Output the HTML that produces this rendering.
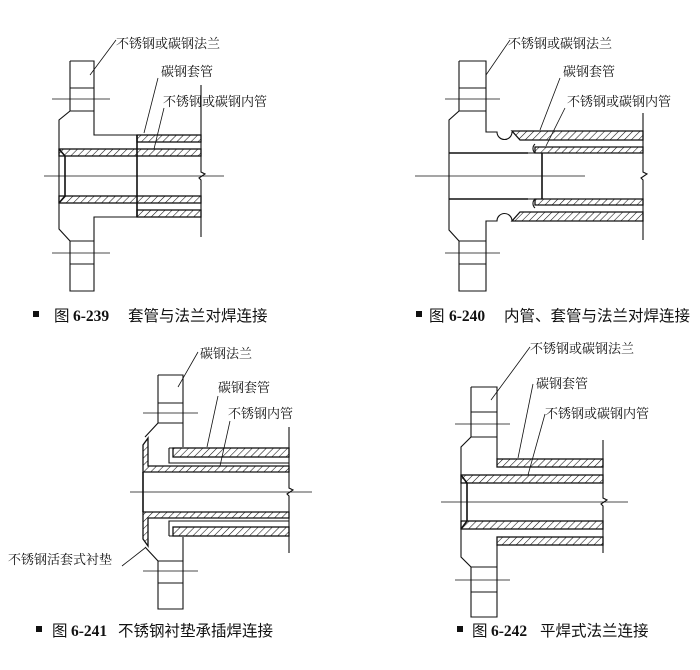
<!DOCTYPE html>
<html><head><meta charset="utf-8"><style>
html,body{margin:0;padding:0;background:#fff;}
svg{display:block}
.l{stroke:#111;stroke-width:1.1;fill:none}
.t{stroke:#111;stroke-width:1.6;fill:none}
.c{stroke:#111;stroke-width:0.8;fill:none}
.h{fill:url(#hat);stroke:#111;stroke-width:1.3}
.lb{font-family:"Liberation Serif","Noto Serif CJK SC",serif;font-size:13px;fill:#111}
.cp{font-family:"Liberation Sans","Noto Sans CJK SC",sans-serif;font-size:15.5px;fill:#111}
.cn{font-family:"Liberation Serif","Noto Serif CJK SC",serif;font-size:15.5px;font-weight:bold;fill:#111}
</style></head><body>
<svg width="700" height="670" viewBox="0 0 700 670" xmlns="http://www.w3.org/2000/svg">
<defs>
<pattern id="hat" patternUnits="userSpaceOnUse" width="5" height="5" patternTransform="rotate(45)">
<line x1="0" y1="0" x2="0" y2="5" stroke="#111" stroke-width="1.1"/>
</pattern>
</defs>

<!-- ===== Figure 1 ===== -->
<g>
<path class="l" d="M70,61 H94 V135 H137 M70,61 V111 L59,120 V229 L70,241 V291 H94 V217 H137"/>
<path class="l" d="M70,88 H94 M70,111 H94 M70,241 H94 M70,264 H94"/>
<path class="c" d="M52,99 H110 M52,253 H110 M44,176 H224"/>
<rect class="h" x="137" y="135" width="64" height="7"/>
<rect class="h" x="137" y="210" width="64" height="7"/>
<rect class="h" x="59" y="149" width="142" height="7"/>
<rect class="h" x="59" y="196" width="142" height="7"/>
<path class="t" d="M65,156 V196 M59,149 L65,156 M59,203 L65,196 M137,135 V217"/>
<path class="l" d="M201,85 V172 l4,2 l-6,4 l2,2 V237"/>
<path class="c" d="M90,75 L116,40 M144,133 L158,78 M154,149 L164,108"/>
<text class="lb" x="116" y="48">不锈钢或碳钢法兰</text>
<text class="lb" x="161" y="76">碳钢套管</text>
<text class="lb" x="163" y="106">不锈钢或碳钢内管</text>
<rect x="33" y="311" width="6" height="6" fill="#111"/>
<text class="cp" x="54" y="321">图</text>
<text class="cn" x="73" y="321">6-239</text>
<text class="cp" x="128" y="321">套管与法兰对焊连接</text>
</g>

<!-- ===== Figure 2 ===== -->
<g>
<path class="l" d="M459,61 H486 V132 H497 A7,7 0 1 0 512,132 M459,61 V111 L449,120 V230 L459,241 V291 H486 V221 H497 A7,7 0 1 1 512,221"/>
<path class="l" d="M459,88 H486 M459,111 H486 M459,241 H486 M459,264 H486"/>
<path class="c" d="M445,99 H500 M445,253 H500 M415,176 H585"/>
<path class="t" d="M449,153 H528 M449,199 H528 M542,153 V199"/>
<path class="h" d="M512,131 H643 V140 H520 Z"/>
<path class="h" d="M512,221 H643 V212 H520 Z"/>
<path class="h" d="M535,147 H643 V153 H535 Z"/>
<path class="h" d="M535,199 H643 V205 H535 Z"/>
<path class="l" d="M535,144 A6,6 0 0 0 535,153 M535,199 A6,6 0 0 0 535,208 M528,153 H535 M528,199 H535"/>
<path class="l" d="M643,113 V172 l4,2 l-6,4 l2,2 V240"/>
<path class="c" d="M486,75 L510,40 M540,130 L560,78 M546,146 L565,108"/>
<text class="lb" x="508" y="48">不锈钢或碳钢法兰</text>
<text class="lb" x="563" y="76">碳钢套管</text>
<text class="lb" x="567" y="106">不锈钢或碳钢内管</text>
<rect x="416" y="311" width="6" height="6" fill="#111"/>
<text class="cp" x="429" y="321">图</text>
<text class="cn" x="449" y="321">6-240</text>
<text class="cp" x="504" y="321">内管、套管与法兰对焊连接</text>
</g>

<!-- ===== Figure 3 ===== -->
<g>
<path class="l" d="M158,375 H183 V447 M158,375 V423 L145,437 M183,537 V609 H158 V561 L145,547"/>
<path class="l" d="M158,403 H183 M158,423 H183 M158,561 H183 M158,583 H183"/>
<path class="c" d="M143,413 H198 M143,571 H198 M130,492 H312"/>
<path class="h" d="M143,445 L148,438 V466 H289 V472 H143 Z"/>
<path class="h" d="M143,539 L148,546 V518 H289 V512 H143 Z"/>
<rect class="h" x="173" y="448" width="116" height="9"/>
<rect class="h" x="173" y="527" width="116" height="9"/>
<path class="l" d="M169,448 V463 H289 M169,448 H173 M169,536 V521 H289 M169,536 H173"/>
<path class="t" d="M143,472 V512"/>
<path class="l" d="M289,427 V488 l4,2 l-6,4 l2,2 V553"/>
<path class="c" d="M178,387 L198,352 M207,447 L218,396 M220,466 L230,421 M145,548 L122,566"/>
<text class="lb" x="200" y="358">碳钢法兰</text>
<text class="lb" x="218" y="392">碳钢套管</text>
<text class="lb" x="228" y="418">不锈钢内管</text>
<text class="lb" x="8" y="564">不锈钢活套式衬垫</text>
<rect x="36" y="626" width="6" height="6" fill="#111"/>
<text class="cp" x="52" y="636">图</text>
<text class="cn" x="71" y="636">6-241</text>
<text class="cp" x="118" y="636">不锈钢衬垫承插焊连接</text>
</g>

<!-- ===== Figure 4 ===== -->
<g>
<path class="l" d="M471,387 H497 V459 M471,387 V437 L461,447 V557 L471,567 V617 H497 V545"/>
<path class="l" d="M471,412 H497 M471,437 H497 M471,567 H497 M471,592 H497"/>
<path class="c" d="M455,424 H510 M455,580 H510 M441,502 H628"/>
<rect class="h" x="497" y="459" width="106" height="8"/>
<rect class="h" x="497" y="537" width="106" height="8"/>
<rect class="h" x="461" y="475" width="142" height="8"/>
<rect class="h" x="461" y="521" width="142" height="8"/>
<path class="t" d="M467,483 V521 M461,475 L467,483 M461,529 L467,521"/>
<path class="l" d="M603,440 V498 l4,2 l-6,4 l2,2 V553"/>
<path class="c" d="M491,400 L530,347 M518,458 L533,384 M528,475 L545,414"/>
<text class="lb" x="530" y="353">不锈钢或碳钢法兰</text>
<text class="lb" x="536" y="388">碳钢套管</text>
<text class="lb" x="545" y="418">不锈钢或碳钢内管</text>
<rect x="457" y="626" width="6" height="6" fill="#111"/>
<text class="cp" x="472" y="636">图</text>
<text class="cn" x="491" y="636">6-242</text>
<text class="cp" x="540" y="636">平焊式法兰连接</text>
</g>
</svg>
</body></html>
